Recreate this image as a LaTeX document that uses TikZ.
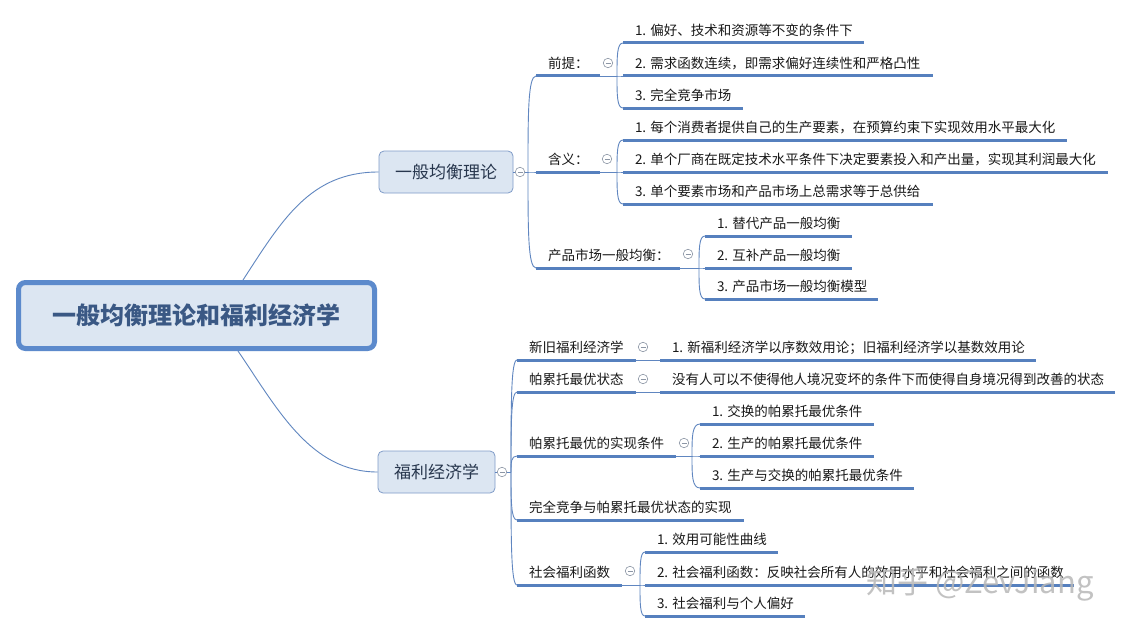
\documentclass[tikz,border=0pt]{standalone}
\usepackage{fontspec}
\setmainfont{Noto Sans CJK SC}
\usetikzlibrary{calc}
\definecolor{ulc}{RGB}{86,128,190}
\definecolor{brc}{RGB}{96,134,192}
\definecolor{boxfill}{RGB}{220,230,242}
\definecolor{boxdraw}{RGB}{128,156,200}
\definecolor{rootdraw}{RGB}{92,138,204}
\definecolor{roottext}{RGB}{58,88,132}
\definecolor{lonetext}{RGB}{40,55,78}
\definecolor{itemtext}{RGB}{25,25,25}
\definecolor{circc}{RGB}{140,150,165}
\newcommand\mmtopic[5]{%
  \pgfmathsetmacro\mmtw{#3-#2}%
  \node[topic] (#1) at (#2,#4) {\makebox[\mmtw pt][l]{\hspace{12pt}#5}};%
  \draw[ul] (#1.south west) -- (#1.south east);}
\newcommand\mmlink[2]{%
  \draw[br] (#1) .. controls ($(#1)!0.6!(#1|-#2)$) and (#1|-#2) .. (#2);}
\begin{document}
\begin{tikzpicture}[x=1pt,y=-1pt,
  topic/.style={anchor=south west, inner sep=0pt, outer sep=0pt, minimum height=26pt,
    font=\fontsize{13.5pt}{16pt}\selectfont, text=itemtext, text height=11.9pt, text depth=1.6pt},
  ul/.style={draw=ulc, line width=3pt},
  br/.style={draw=brc, line width=0.9pt},
  lonebox/.style={draw=boxdraw, line width=0.8pt, fill=boxfill, rounded corners=5pt,
    minimum height=42pt, inner sep=0pt, font=\fontsize{17pt}{19pt}\selectfont, text=lonetext},
  rootbox/.style={draw=rootdraw, line width=5pt, fill=boxfill, rounded corners=7pt,
    minimum width=356pt, minimum height=66pt, inner sep=0pt,
    font=\fontsize{24pt}{26pt}\selectfont\bfseries, text=roottext},
  collapse/.style={circle, draw=circc, line width=0.6pt, fill=white, minimum size=9.5pt, inner sep=0pt,
    path picture={\draw[circc, line width=0.6pt] ([xshift=-2.5pt]path picture bounding box.center) -- ([xshift=2.5pt]path picture bounding box.center);}}
]
\fill[white] (0,0) rectangle (1133,634);
\useasboundingbox (0,0) rectangle (1133,634);

% ---------- root and level 1 ----------
\node[rootbox] (root) at (196.5,315.5) {一般均衡理论和福利经济学};
\node[lonebox, minimum width=134pt] (b1) at (446,172) {一般均衡理论};
\node[lonebox, minimum width=117pt] (b2) at (436.5,472) {福利经济学};
\draw[br] ([xshift=46.5pt]root.north) .. controls (282,220) and (310,172) .. (b1.west);
\draw[br] ([xshift=41.5pt]root.south) .. controls (277,408) and (310,472) .. (b2.west);

\node[collapse] (c1) at (520,172) {};
\node[collapse] (c2) at (502,472) {};
\coordinate (j1) at (528,172);
\coordinate (j2) at (511,472);
\draw[br] (b1.east) -- (c1.west);
\draw[br] (c1.east) -- (j1);
\draw[br] (b2.east) -- (c2.west);
\draw[br] (c2.east) -- (j2);

% ---------- 一般均衡理论 ----------
\mmtopic{t11}{536}{600}{76}{前提：}
\mmtopic{t12}{536}{600}{172}{含义：}
\mmtopic{t13}{536}{680}{268}{产品市场一般均衡：}
\mmlink{j1}{t11.south west}
\mmlink{j1}{t12.south west}
\mmlink{j1}{t13.south west}

\node[collapse] (c11) at (608,63) {};
\coordinate (j11) at (617,76);
\draw[br] (t11.south east) -- (j11);
\mmtopic{t111}{623}{864}{43}{1. 偏好、技术和资源等不变的条件下}
\mmtopic{t112}{623}{933}{76}{2. 需求函数连续，即需求偏好连续性和严格凸性}
\mmtopic{t113}{623}{743}{108}{3. 完全竞争市场}
\mmlink{j11}{t111.south west}
\mmlink{j11}{t112.south west}
\mmlink{j11}{t113.south west}

\node[collapse] (c12) at (607,159) {};
\coordinate (j12) at (617,172);
\draw[br] (t12.south east) -- (j12);
\mmtopic{t121}{623}{1067}{140}{1. 每个消费者提供自己的生产要素，在预算约束下实现效用水平最大化}
\mmtopic{t122}{623}{1108}{172}{2. 单个厂商在既定技术水平条件下决定要素投入和产出量，实现其利润最大化}
\mmtopic{t123}{623}{933}{204}{3. 单个要素市场和产品市场上总需求等于总供给}
\mmlink{j12}{t121.south west}
\mmlink{j12}{t122.south west}
\mmlink{j12}{t123.south west}

\node[collapse] (c13) at (688,254) {};
\coordinate (j13) at (699,268);
\draw[br] (t13.south east) -- (j13);
\mmtopic{t131}{705}{852}{236}{1. 替代产品一般均衡}
\mmtopic{t132}{705}{852}{268}{2. 互补产品一般均衡}
\mmtopic{t133}{705}{878}{299}{3. 产品市场一般均衡模型}
\mmlink{j13}{t131.south west}
\mmlink{j13}{t132.south west}
\mmlink{j13}{t133.south west}

% ---------- 福利经济学 ----------
\mmtopic{t21}{517}{636}{360}{新旧福利经济学}
\mmtopic{t22}{517}{636}{392}{帕累托最优状态}
\mmtopic{t23}{517}{676}{456}{帕累托最优的实现条件}
\mmtopic{t24}{517}{744}{520}{完全竞争与帕累托最优状态的实现}
\mmtopic{t25}{517}{622}{585}{社会福利函数}
\mmlink{j2}{t21.south west}
\mmlink{j2}{t22.south west}
\mmlink{j2}{t23.south west}
\mmlink{j2}{t24.south west}
\mmlink{j2}{t25.south west}

\node[collapse] (c21) at (643,347) {};
\mmtopic{t211}{660}{1036}{360}{1. 新福利经济学以序数效用论；旧福利经济学以基数效用论}
\draw[br] (t21.south east) -- (t211.south west);

\node[collapse] (c22) at (643,379) {};
\mmtopic{t221}{660}{1115}{392}{没有人可以不使得他人境况变坏的条件下而使得自身境况得到改善的状态}
\draw[br] (t22.south east) -- (t221.south west);

\node[collapse] (c23) at (684,443) {};
\coordinate (j23) at (692,456);
\draw[br] (t23.south east) -- (j23);
\mmtopic{t231}{700}{874}{424}{1. 交换的帕累托最优条件}
\mmtopic{t232}{700}{874}{456}{2. 生产的帕累托最优条件}
\mmtopic{t233}{700}{914}{488}{3. 生产与交换的帕累托最优条件}
\mmlink{j23}{t231.south west}
\mmlink{j23}{t232.south west}
\mmlink{j23}{t233.south west}

\node[collapse] (c25) at (630,571) {};
\coordinate (j25) at (640,585);
\draw[br] (t25.south east) -- (j25);
\mmtopic{t251}{645}{778}{552}{1. 效用可能性曲线}
\mmtopic{t252}{645}{1074}{585}{2. 社会福利函数：反映社会所有人的效用水平和社会福利之间的函数}
\mmtopic{t253}{645}{805}{616}{3. 社会福利与个人偏好}
\mmlink{j25}{t251.south west}
\mmlink{j25}{t252.south west}
\mmlink{j25}{t253.south west}

% ---------- watermark ----------
\node[text=black!28, opacity=0.85, font=\fontsize{31pt}{33pt}\selectfont, inner sep=0pt] (wm) at (980,584) {知乎 @ZevJiang};
\end{tikzpicture}
\end{document}
